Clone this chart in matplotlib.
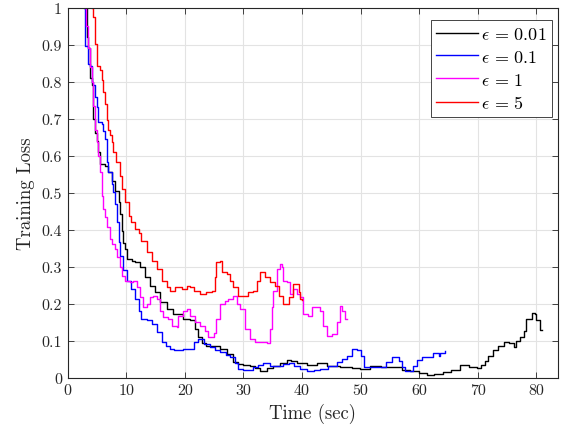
import matplotlib
matplotlib.use("Agg")
import matplotlib.pyplot as plt

plt.rcParams['font.family'] = ['cmr10', 'DejaVu Serif']
plt.rcParams['mathtext.fontset'] = 'cm'
plt.rcParams['axes.formatter.use_mathtext'] = True

labels = [r'$\epsilon \,=\, 0.01$', r'$\epsilon \,=\, 0.1$', r'$\epsilon \,=\, 1$', r'$\epsilon \,=\, 5$']
colors = ['black', 'blue', 'magenta', 'red']

x_001 = [3.0, 3.3, 3.5, 3.8, 4.1, 4.4, 4.7, 5.0, 5.2, 5.5, 6.3, 6.9, 7.5, 8.1, 8.7,
         8.9, 9.2, 9.5, 9.8, 10.1, 11.0, 11.5, 12.4, 13.2, 14.1, 14.9, 15.8, 16.9, 18.0, 19.7,
         20.9, 21.7, 22.3, 23.0, 23.7, 24.9, 26.0, 27.2, 28.3, 29.1, 30.0, 31.1, 32.0, 32.8, 34.0,
         35.1, 36.2, 37.4, 38.2, 39.1, 40.8, 42.5, 44.2, 46.5, 48.5, 49.9, 51.6, 53.5, 55.5, 57.0,
         58.4, 60.0, 61.3, 62.5, 64.0, 65.5, 67.0, 68.5, 69.8, 70.5, 71.2, 71.8, 72.6, 73.5, 74.4,
         75.3, 76.1, 76.6, 77.2, 77.8, 78.3, 79.2, 79.8, 80.0, 80.6, 81.0]
y_001 = [1.0, 0.92, 0.89, 0.81, 0.79, 0.70, 0.66, 0.64, 0.61, 0.578, 0.573, 0.555, 0.532, 0.505, 0.474,
         0.442, 0.397, 0.365, 0.348, 0.321, 0.316, 0.312, 0.298, 0.271, 0.249, 0.231, 0.204, 0.186, 0.172, 0.159,
         0.155, 0.132, 0.109, 0.095, 0.086, 0.086, 0.078, 0.064, 0.042, 0.037, 0.035, 0.033, 0.026, 0.019, 0.025,
         0.033, 0.04, 0.049, 0.045, 0.04, 0.034, 0.04, 0.033, 0.03, 0.027, 0.024, 0.032, 0.03, 0.028, 0.022,
         0.018, 0.012, 0.007, 0.01, 0.015, 0.022, 0.034, 0.03, 0.027, 0.035, 0.045, 0.06, 0.075, 0.087, 0.096,
         0.093, 0.082, 0.1, 0.11, 0.127, 0.159, 0.174, 0.173, 0.157, 0.13, 0.13]

x_01 = [2.8, 3.0, 3.4, 3.8, 4.1, 4.4, 4.7, 5.0, 5.2, 5.8, 6.1, 6.4, 6.7, 6.9, 7.5,
        7.8, 8.1, 8.4, 8.7, 8.9, 9.5, 10.1, 10.8, 11.5, 12.1, 12.6, 13.5, 14.4, 15.2, 16.1,
        16.8, 17.5, 18.1, 19.7, 20.9, 21.5, 22.3, 23.2, 24.3, 25.2, 26.0, 27.0, 27.7, 28.5, 29.1,
        30.0, 30.8, 31.7, 32.5, 33.4, 34.5, 35.7, 36.7, 37.7, 38.7, 39.7, 40.8, 42.0, 43.1, 44.5,
        45.9, 46.8, 47.6, 48.5, 49.3, 50.0, 50.5, 52.0, 53.4, 54.4, 55.3, 56.5, 57.0, 57.6, 58.4,
        59.0, 59.6, 60.4, 61.3, 62.2, 62.4, 63.3, 63.6, 64.4]
y_01 = [1.0, 0.897, 0.848, 0.843, 0.8, 0.79, 0.759, 0.73, 0.69, 0.685, 0.667, 0.645, 0.582, 0.555, 0.523,
        0.501, 0.469, 0.42, 0.366, 0.33, 0.29, 0.262, 0.24, 0.213, 0.181, 0.159, 0.155, 0.145, 0.123, 0.096,
        0.085, 0.078, 0.074, 0.078, 0.078, 0.096, 0.105, 0.09, 0.082, 0.075, 0.069, 0.062, 0.055, 0.04, 0.024,
        0.02, 0.02, 0.028, 0.034, 0.04, 0.033, 0.033, 0.036, 0.04, 0.032, 0.024, 0.019, 0.02, 0.024, 0.032,
        0.042, 0.05, 0.06, 0.078, 0.076, 0.06, 0.028, 0.028, 0.028, 0.043, 0.055, 0.046, 0.03, 0.018, 0.018,
        0.031, 0.049, 0.055, 0.057, 0.057, 0.066, 0.058, 0.067, 0.072]

x_1 = [3.0, 3.2, 3.5, 3.8, 4.1, 4.4, 4.6, 5.0, 5.2, 5.5, 5.8, 6.1, 6.4, 6.7, 7.2,
       7.5, 8.1, 8.4, 8.9, 9.2, 9.8, 10.6, 11.2, 11.8, 12.4, 12.9, 13.5, 14.1, 14.6, 15.2,
       15.8, 16.3, 17.2, 17.8, 18.6, 18.9, 19.7, 20.3, 20.9, 21.7, 22.6, 23.4, 24.0, 24.9, 25.4,
       26.0, 26.9, 27.4, 28.3, 28.9, 29.4, 30.3, 31.1, 32.0, 34.0, 34.5, 34.8, 35.1, 35.7, 36.2,
       36.6, 36.8, 37.4, 38.0, 38.5, 39.1, 39.7, 40.2, 41.1, 41.7, 42.5, 43.1, 43.6, 44.2, 45.1,
       45.9, 46.5, 46.8, 47.3, 47.6]
y_1 = [1.0, 0.95, 0.89, 0.84, 0.8, 0.735, 0.67, 0.636, 0.6, 0.555, 0.492, 0.456, 0.434, 0.406, 0.375,
       0.361, 0.348, 0.326, 0.30, 0.276, 0.262, 0.258, 0.262, 0.244, 0.217, 0.19, 0.199, 0.217, 0.222, 0.213,
       0.181, 0.163, 0.159, 0.141, 0.136, 0.168, 0.181, 0.186, 0.168, 0.15, 0.141, 0.127, 0.109, 0.122, 0.159,
       0.199, 0.208, 0.213, 0.222, 0.199, 0.186, 0.132, 0.105, 0.096, 0.094, 0.132, 0.19, 0.235, 0.294, 0.307,
       0.298, 0.262, 0.258, 0.226, 0.24, 0.226, 0.217, 0.172, 0.168, 0.19, 0.19, 0.181, 0.141, 0.114, 0.118,
       0.15, 0.195, 0.18, 0.159, 0.16]

x_5 = [4.1, 4.4, 4.7, 5.0, 5.5, 5.8, 6.1, 6.4, 6.7, 6.9, 7.2, 7.5, 7.8, 8.3, 8.9,
       9.2, 9.8, 10.4, 10.9, 11.5, 12.1, 12.6, 13.5, 14.4, 15.2, 16.1, 16.9, 17.5, 18.3, 19.5,
       20.3, 20.9, 21.5, 22.6, 23.7, 24.6, 25.2, 25.4, 26.0, 26.3, 27.2, 27.7, 28.3, 29.1, 29.4,
       30.8, 31.7, 32.3, 32.8, 33.7, 34.5, 35.4, 36.0, 36.8, 37.7, 38.5, 39.4, 39.7, 40.0]
y_5 = [1.0, 0.974, 0.902, 0.843, 0.83, 0.803, 0.771, 0.74, 0.695, 0.67, 0.655, 0.636, 0.609, 0.582, 0.546,
       0.51, 0.474, 0.438, 0.42, 0.402, 0.39, 0.37, 0.339, 0.316, 0.294, 0.262, 0.244, 0.235, 0.244, 0.24,
       0.249, 0.244, 0.235, 0.226, 0.231, 0.235, 0.271, 0.312, 0.316, 0.285, 0.28, 0.262, 0.244, 0.222, 0.222,
       0.231, 0.235, 0.262, 0.285, 0.271, 0.258, 0.249, 0.222, 0.199, 0.217, 0.253, 0.231, 0.213, 0.21]

xs = [x_001, x_01, x_1, x_5]
ys = [y_001, y_01, y_1, y_5]

x_ticks = [0, 10, 20, 30, 40, 50, 60, 70, 80]
y_ticks = [0, 0.1, 0.2, 0.3, 0.4, 0.5, 0.6, 0.7, 0.8, 0.9, 1]
y_ticklabels = ['0', '0.1', '0.2', '0.3', '0.4', '0.5', '0.6', '0.7', '0.8', '0.9', '1']

fig = plt.figure(figsize=(5.73, 4.27), dpi=100)
ax = fig.add_axes([0.118, 0.113, 0.856, 0.867])

for x, y, c, lab in zip(xs, ys, colors, labels):
    ax.plot(x, y, drawstyle='steps-post', color=c, lw=1.0, label=lab)

ax.set_xlim(0, 83.7)
ax.set_ylim(0, 1)
ax.set_xticks(x_ticks)
ax.set_xticklabels([str(t) for t in x_ticks])
ax.set_yticks(y_ticks)
ax.set_yticklabels(y_ticklabels)
ax.grid(True, color='#e3e3e3', lw=0.8)
ax.set_axisbelow(True)
for s in ax.spines.values():
    s.set_color('#262626')
    s.set_linewidth(0.8)
ax.tick_params(direction='in', length=4, width=0.6, top=True, right=True,
               labelsize=11.5, colors='#262626', labelcolor='#262626', pad=4)
ax.set_xlabel('Time (sec)', fontsize=13.5, color='#262626', labelpad=4)
ax.set_ylabel('Training Loss', fontsize=13.5, color='#262626', labelpad=5)

leg = ax.legend(loc='upper right', bbox_to_anchor=(0.988, 0.965), borderaxespad=0,
                fontsize=13, handlelength=2.3, handletextpad=0.2, labelspacing=0.38,
                borderpad=0.3, fancybox=False, framealpha=1, edgecolor='#262626')
leg.get_frame().set_linewidth(0.6)

fig.savefig('out.png', dpi=100)
